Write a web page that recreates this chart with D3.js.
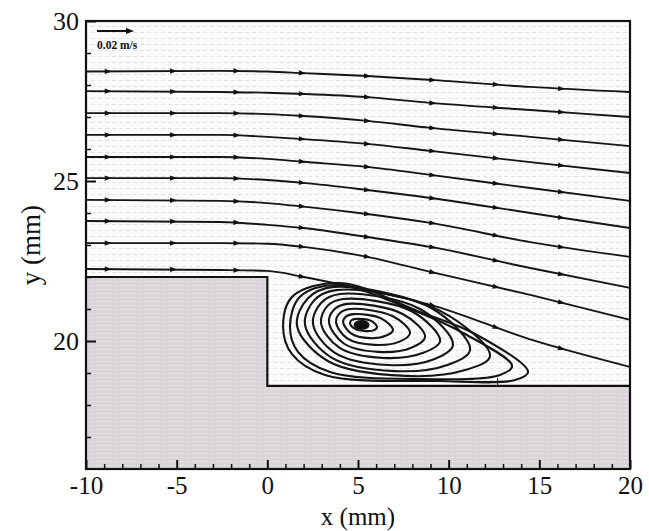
<!DOCTYPE html>
<html>
<head>
<meta charset="utf-8">
<script src="https://cdn.jsdelivr.net/npm/d3@7/dist/d3.min.js"></script>
<style>
  html, body { margin: 0; padding: 0; background: #ffffff; }
  svg { display: block; }
  text { font-family: "Liberation Serif", "DejaVu Serif", serif; fill: #111; }
</style>
</head>
<body>
<svg id="chart" width="649" height="531"></svg>
<script>
// ---------------- data (mm) ----------------
const xDomain = [-10, 20];
const yDomain = [16, 30];
const xTicks = [-10, -5, 0, 5, 10, 15, 20];
const yTicks = [20, 25, 30];
const xMinorTicks = [-9, -8, -7, -6, -4, -3, -2, -1, 1, 2, 3, 4, 6, 7, 8, 9, 11, 12, 13, 14, 16, 17, 18, 19];
const yMinorTicks = [17, 18, 19, 21, 22, 23, 24, 26, 27, 28, 29];

// step geometry (mm)
const stepEdgeX = 0;
const stepTopY = 22;
const floorY = 18.6;

// streamlines: common x stations and y values per line
const streamX = [-10, -2.6, 0, 2, 5.5, 9, 14.5, 20];
const streamY = [
  [28.42, 28.44, 28.42, 28.37, 28.28, 28.16, 27.94, 27.78],
  [27.81, 27.78, 27.76, 27.72, 27.62, 27.44, 27.22, 27.00],
  [27.12, 27.12, 27.09, 27.03, 26.88, 26.66, 26.38, 26.09],
  [26.44, 26.44, 26.38, 26.31, 26.16, 25.94, 25.59, 25.25],
  [25.75, 25.75, 25.69, 25.60, 25.44, 25.19, 24.78, 24.38],
  [25.09, 25.09, 25.03, 24.94, 24.72, 24.47, 24.00, 23.53],
  [24.41, 24.38, 24.31, 24.20, 23.97, 23.69, 23.09, 22.63],
  [23.75, 23.72, 23.63, 23.53, 23.25, 22.94, 22.28, 21.66],
  [23.06, 23.06, 23.04, 22.94, 22.63, 22.16, 21.44, 20.66],
  [22.25, 22.22, 22.19, 22.00, 21.59, 21.13, 20.05, 19.19]
];
// arrow stations along streamlines (x, mm)
const arrowX = [-8.8, -5.2, -1.7, 1.9, 5.5, 9.1, 12.6, 16.2];

// recirculation loops behind the step (points in mm, inner -> outer)
const vortexLoops = [
  [[4.56,20.56],[4.67,20.66],[5.00,20.69],[5.72,20.63],[6.05,20.44],[5.89,20.34],[5.44,20.31],[4.84,20.38]],
  [[4.18,20.59],[4.35,20.77],[4.78,20.84],[6.30,20.70],[6.93,20.34],[6.56,20.17],[5.66,20.09],[4.61,20.24]],
  [[3.79,20.59],[4.02,20.88],[4.56,21.00],[6.90,20.78],[7.87,20.25],[7.29,19.98],[5.89,19.88],[4.40,20.08]],
  [[3.40,20.59],[3.70,20.99],[4.40,21.16],[7.44,20.85],[8.70,20.13],[7.94,19.79],[6.11,19.66],[4.20,19.93]],
  [[2.96,20.56],[3.31,21.09],[4.18,21.31],[7.96,20.93],[9.53,20.00],[8.60,19.63],[6.38,19.47],[3.97,19.79]],
  [[2.52,20.53],[2.96,21.19],[4.01,21.47],[8.42,21.00],[10.24,19.88],[9.19,19.43],[6.66,19.25],[3.73,19.63]],
  [[2.08,20.50],[2.58,21.27],[3.79,21.59],[9.01,21.04],[11.18,19.72],[9.97,19.26],[7.04,19.06],[3.54,19.48]],
  [[1.64,20.47],[2.23,21.33],[3.68,21.69],[9.53,20.94],[12.28,19.53],[10.91,19.09],[7.60,18.91],[3.38,19.36]],
  [[1.25,20.47],[1.80,21.38],[3.79,21.75],[7.87,21.00],[10.90,20.22],[13.50,19.22],[12.83,18.94],[8.42,18.81],[3.46,19.03],[1.69,19.66]],
  [[0.87,20.47],[1.42,21.41],[4.01,21.81],[8.42,20.91],[11.46,20.22],[14.38,19.03],[13.66,18.78],[9.53,18.75],[3.18,18.94],[1.36,19.59]]
];
const vortexCore = [5.2, 20.5];
const reattachX = 12.7;

// ---------------- layout ----------------
const svg = d3.select("#chart");
const x = d3.scaleLinear().domain(xDomain).range([86, 630]);
const y = d3.scaleLinear().domain(yDomain).range([469, 21]);

const defs = svg.append("defs");
const flowPat = defs.append("pattern").attr("id", "flowTex")
  .attr("patternUnits", "userSpaceOnUse").attr("width", 7).attr("height", 6);
flowPat.append("rect").attr("width", 7).attr("height", 6).attr("fill", "#fbfbfb");
flowPat.append("rect").attr("x", 0).attr("y", 2).attr("width", 4).attr("height", 1).attr("fill", "#e2e2e2");

const grayPat = defs.append("pattern").attr("id", "grayTex")
  .attr("patternUnits", "userSpaceOnUse").attr("width", 6).attr("height", 4);
grayPat.append("rect").attr("width", 6).attr("height", 4).attr("fill", "#d9d5d9");
grayPat.append("rect").attr("x", 0).attr("y", 1).attr("width", 4).attr("height", 1).attr("fill", "#e6e3e6");

defs.append("clipPath").attr("id", "plotClip").append("rect")
  .attr("x", x(xDomain[0])).attr("y", y(yDomain[1]))
  .attr("width", x(xDomain[1]) - x(xDomain[0])).attr("height", y(yDomain[0]) - y(yDomain[1]));

// flow background
svg.append("rect")
  .attr("x", x(xDomain[0])).attr("y", y(yDomain[1]))
  .attr("width", x(xDomain[1]) - x(xDomain[0])).attr("height", y(yDomain[0]) - y(yDomain[1]))
  .attr("fill", "url(#flowTex)");

// solid regions (step + floor)
const solidPts = [
  [xDomain[0], yDomain[0]], [xDomain[0], stepTopY], [stepEdgeX, stepTopY],
  [stepEdgeX, floorY], [xDomain[1], floorY], [xDomain[1], yDomain[0]]
];
svg.append("path")
  .attr("d", d3.line().x(d => x(d[0])).y(d => y(d[1]))(solidPts) + "Z")
  .attr("fill", "url(#grayTex)").attr("stroke", "none");
svg.append("path")
  .attr("d", d3.line().x(d => x(d[0])).y(d => y(d[1]))(solidPts.slice(1, 5)))
  .attr("fill", "none").attr("stroke", "#111").attr("stroke-width", 2.2);

const plot = svg.append("g").attr("clip-path", "url(#plotClip)");

// streamlines
const sLine = d3.line().x(d => x(d[0])).y(d => y(d[1])).curve(d3.curveMonotoneX);
streamY.forEach(ys => {
  const pts = streamX.map((sx, i) => [sx, ys[i]]);
  const p = plot.append("path").attr("d", sLine(pts))
    .attr("fill", "none").attr("stroke", "#151515").attr("stroke-width", 1.9);
  const node = p.node();
  const total = node.getTotalLength();
  arrowX.forEach(ax => {
    const target = x(ax);
    let lo = 0, hi = total;
    for (let k = 0; k < 30; k++) {
      const mid = (lo + hi) / 2;
      if (node.getPointAtLength(mid).x < target) lo = mid; else hi = mid;
    }
    const p0 = node.getPointAtLength(Math.max(0, lo - 2));
    const p1 = node.getPointAtLength(Math.min(total, lo + 2));
    const pc = node.getPointAtLength(lo);
    const ang = Math.atan2(p1.y - p0.y, p1.x - p0.x) * 180 / Math.PI;
    plot.append("path").attr("d", "M4,0L-3,-2.6L-3,2.6Z")
      .attr("transform", `translate(${pc.x},${pc.y}) rotate(${ang})`)
      .attr("fill", "#111");
  });
});

// recirculation loops
const loopLine = d3.line().x(d => x(d[0])).y(d => y(d[1])).curve(d3.curveCatmullRomClosed.alpha(0.5));
vortexLoops.forEach(pts => {
  plot.append("path").attr("d", loopLine(pts))
    .attr("fill", "none").attr("stroke", "#151515").attr("stroke-width", 2.1);
});
plot.append("ellipse")
  .attr("cx", x(vortexCore[0])).attr("cy", y(vortexCore[1]))
  .attr("rx", 8).attr("ry", 5).attr("fill", "#111");
plot.append("line")
  .attr("x1", x(reattachX)).attr("x2", x(reattachX))
  .attr("y1", y(floorY)).attr("y2", y(floorY + 0.25))
  .attr("stroke", "#222").attr("stroke-width", 1);

// frame
svg.append("rect")
  .attr("x", x(xDomain[0])).attr("y", y(yDomain[1]))
  .attr("width", x(xDomain[1]) - x(xDomain[0])).attr("height", y(yDomain[0]) - y(yDomain[1]))
  .attr("fill", "none").attr("stroke", "#111").attr("stroke-width", 2.2);

// axes
const fontSize = 25;
const gx = svg.append("g").attr("transform", `translate(0,${y(yDomain[0])})`)
  .call(d3.axisBottom(x).tickValues(xTicks).tickSizeInner(-9).tickSizeOuter(0).tickPadding(7)
    .tickFormat(d => d));
gx.select(".domain").remove();
gx.selectAll(".tick line").attr("stroke", "#111").attr("stroke-width", 2);
gx.selectAll(".tick text").attr("font-size", fontSize).attr("fill", "#111")
  .attr("font-family", "Liberation Serif");

const gxm = svg.append("g").attr("transform", `translate(0,${y(yDomain[0])})`)
  .call(d3.axisBottom(x).tickValues(xMinorTicks).tickSizeInner(-5).tickSizeOuter(0).tickFormat(""));
gxm.select(".domain").remove();
gxm.selectAll(".tick line").attr("stroke", "#111").attr("stroke-width", 1.5);

const gy = svg.append("g").attr("transform", `translate(${x(xDomain[0])},0)`)
  .call(d3.axisLeft(y).tickValues(yTicks).tickSizeInner(-10).tickSizeOuter(0).tickPadding(7)
    .tickFormat(d => d));
gy.select(".domain").remove();
gy.selectAll(".tick line").attr("stroke", "#111").attr("stroke-width", 2);
gy.selectAll(".tick text").attr("font-size", 26).attr("fill", "#111")
  .attr("font-family", "Liberation Serif");

const gym = svg.append("g").attr("transform", `translate(${x(xDomain[0])},0)`)
  .call(d3.axisLeft(y).tickValues(yMinorTicks).tickSizeInner(-5).tickSizeOuter(0).tickFormat(""));
gym.select(".domain").remove();
gym.selectAll(".tick line").attr("stroke", "#111").attr("stroke-width", 1.5);

// axis titles
svg.append("text").attr("x", (x(xDomain[0]) + x(xDomain[1])) / 2).attr("y", 525)
  .attr("text-anchor", "middle").attr("font-size", 25).text("x (mm)");
svg.append("text").attr("transform", `translate(40,${(y(yDomain[0]) + y(yDomain[1])) / 2}) rotate(-90)`)
  .attr("text-anchor", "middle").attr("font-size", 27).text("y (mm)");

// reference vector legend
const legX0 = x(xDomain[0]) + 11, legY = y(yDomain[1]) + 10, legLen = 37;
svg.append("line").attr("x1", legX0).attr("x2", legX0 + legLen - 5)
  .attr("y1", legY).attr("y2", legY).attr("stroke", "#111").attr("stroke-width", 2);
svg.append("path").attr("d", `M${legX0 + legLen},${legY}L${legX0 + legLen - 8},${legY - 3}L${legX0 + legLen - 8},${legY + 3}Z`)
  .attr("fill", "#111");
svg.append("text").attr("x", legX0).attr("y", legY + 18)
  .attr("font-size", 11.5).attr("font-weight", "bold").text("0.02 m/s");
</script>
</body>
</html>
